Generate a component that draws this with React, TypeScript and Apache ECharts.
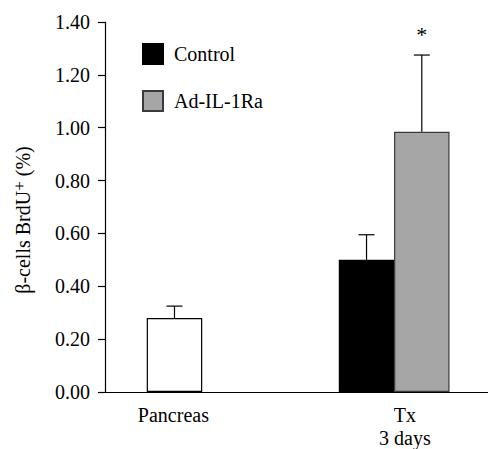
import React, { useEffect, useRef } from "react";
import * as echarts from "echarts";

// ---- data ----
const groupLabels = ["Pancreas", "Tx\n3 days"];
const seriesNames = ["Pancreas", "Control", "Ad-IL-1Ra"];
const means = [0.28, 0.5, 0.985];
const errUpper = [0.325, 0.595, 1.275];
const significance = ["", "", "*"];
const yTicks = [0, 0.2, 0.4, 0.6, 0.8, 1.0, 1.2, 1.4];

// ---- layout (x-scale positions on a hidden value axis) ----
const X_MAX = 7;
const barPos = [1.27, 4.78, 5.79];
const labelPos = [1.25, 5.48];

const FONT = "'Liberation Serif', 'Times New Roman', serif";

export default function App() {
  const ref = useRef<HTMLDivElement>(null);
  useEffect(() => {
    if (!ref.current) return;
    document.body.style.margin = "0";
    document.documentElement.style.overflow = "hidden";
    const chart = echarts.init(ref.current, undefined, { renderer: "svg" });
    const fills = ["#ffffff", "#000000", "#a6a6a6"];
    const borders = ["#000000", "#000000", "#3a3a3a"];

    const barSeries = seriesNames.map((name, i) => ({
      name,
      type: "bar",
      barWidth: 55.5,
      barGap: "-100%",
      data: [[barPos[i], means[i]]],
      itemStyle: { color: fills[i], borderColor: borders[i], borderWidth: 1.2 },
      z: 2,
    }));

    const errData = seriesNames.map((_, i) => [barPos[i], means[i], errUpper[i], i]);

    chart.setOption({
      animation: false,
      textStyle: { fontFamily: FONT },
      grid: { left: 105, right: 0, top: 22, bottom: 57, containLabel: false, outerBoundsMode: "none" },
      legend: {
        data: ["Control", "Ad-IL-1Ra"],
        orient: "vertical",
        left: 137,
        top: 38,
        itemWidth: 20,
        itemHeight: 20,
        itemGap: 25,
        icon: "rect",
        textStyle: { fontFamily: FONT, fontSize: 20, color: "#000", padding: [0, 0, 0, 6] },
      },
      xAxis: {
        type: "value",
        min: 0,
        max: X_MAX,
        splitLine: { show: false },
        axisLine: { show: true, lineStyle: { color: "#000", width: 1.2 } },
        axisTick: { show: false },
        axisLabel: {
          customValues: labelPos,
          formatter: (v: number) => {
            const idx = labelPos.findIndex((p) => Math.abs(p - v) < 1e-6);
            return idx >= 0 ? groupLabels[idx] : "";
          },
          fontFamily: FONT,
          fontSize: 20,
          color: "#000",
          lineHeight: 23,
          margin: 11,
        },
      },
      yAxis: {
        type: "value",
        min: 0,
        max: 1.4,
        interval: 0.2,
        splitLine: { show: false },
        axisLine: { show: true, lineStyle: { color: "#000", width: 1.2 } },
        axisTick: { show: true, inside: false, length: 7, lineStyle: { color: "#000", width: 1.2 } },
        axisLabel: {
          formatter: (v: number) => (yTicks.some((t) => Math.abs(t - v) < 1e-9) ? v.toFixed(2) : ""),
          fontFamily: FONT,
          fontSize: 20,
          color: "#000",
          margin: 15,
        },
        name: "{a|β-cells BrdU}{sup|+}{a| (%)}",
        nameLocation: "middle",
        nameRotate: 90,
        nameGap: 70,
        nameTextStyle: {
          padding: [0, 26, 0, 0],
          rich: {
            a: { fontFamily: FONT, fontSize: 20, color: "#000", lineHeight: 24 },
            sup: { fontFamily: FONT, fontSize: 17, color: "#000", lineHeight: 12, verticalAlign: "top" },
          },
        },
      },
      series: [
        ...barSeries,
        {
          type: "custom",
          name: "err",
          z: 3,
          data: errData,
          renderItem: (params: any, api: any) => {
            const x = api.value(0);
            const m = api.value(1);
            const u = api.value(2);
            const idx = api.value(3);
            const p0 = api.coord([x, m]);
            const p1 = api.coord([x, u]);
            const half = 8;
            const children: any[] = [
              { type: "line", shape: { x1: p0[0], y1: p0[1], x2: p1[0], y2: p1[1] }, style: { stroke: "#000", lineWidth: 1.2 } },
              { type: "line", shape: { x1: p1[0] - half, y1: p1[1], x2: p1[0] + half, y2: p1[1] }, style: { stroke: "#000", lineWidth: 1.2 } },
            ];
            const sig = significance[idx];
            if (sig) {
              children.push({
                type: "text",
                style: {
                  text: sig,
                  x: p1[0],
                  y: p1[1] - 10,
                  align: "center",
                  verticalAlign: "bottom",
                  fontFamily: FONT,
                  fontSize: 22,
                  fill: "#000",
                },
              });
            }
            return { type: "group", children };
          },
        },
      ],
    });
    return () => chart.dispose();
  }, []);
  return (
    <div
      ref={ref}
      style={{ position: "absolute", left: 0, top: 0, width: 488, height: 449, overflow: "hidden" }}
    />
  );
}
